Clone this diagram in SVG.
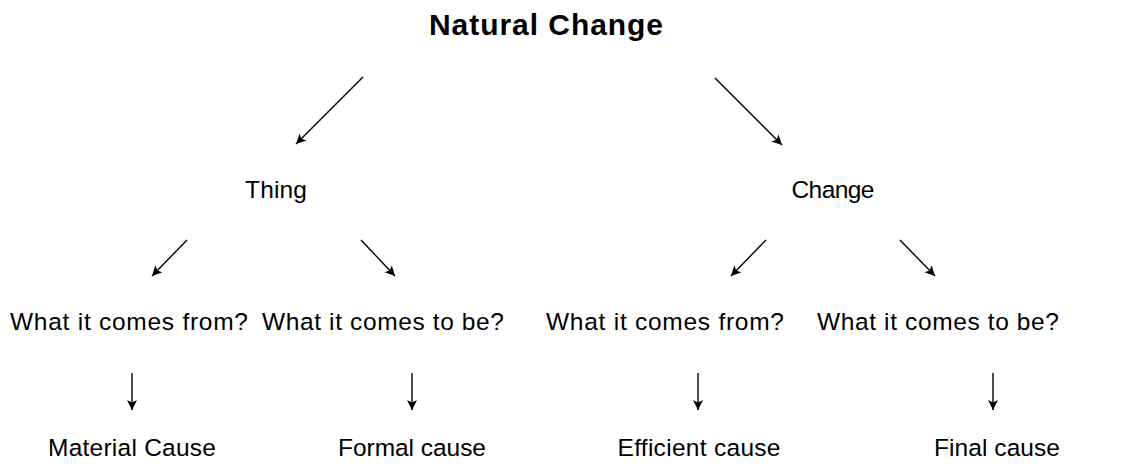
<svg xmlns="http://www.w3.org/2000/svg" width="1123" height="467" viewBox="0 0 1123 467">
<style>
text{font-family:"Liberation Sans",Arial,sans-serif;fill:#000;text-anchor:middle}
.t{font-size:30px;font-weight:bold}
.n{font-size:24.5px}
.c line{stroke:#000;stroke-width:1.4;marker-end:url(#ah)}
</style>
<defs>
<marker id="ah" markerUnits="userSpaceOnUse" markerWidth="14" markerHeight="12" refX="10" refY="5" orient="auto">
<path d="M0,0 L10,5 L0,10 L2.5,5 Z" fill="#000"/>
</marker>
</defs>
<rect width="1123" height="467" fill="#fff"/>
<g id="n-natural"><text class="t" x="546" y="35" textLength="234">Natural Change</text></g>
<g id="n-thing"><text class="n" x="276" y="198" textLength="62">Thing</text></g>
<g id="n-change"><text class="n" x="833" y="198" textLength="83">Change</text></g>
<g id="n-tfrom"><text class="n" x="129" y="330" textLength="238">What it comes from?</text></g>
<g id="n-tto"><text class="n" x="383" y="330" textLength="242">What it comes to be?</text></g>
<g id="n-cfrom"><text class="n" x="665" y="330" textLength="238">What it comes from?</text></g>
<g id="n-cto"><text class="n" x="938" y="330" textLength="242">What it comes to be?</text></g>
<g id="n-material"><text class="n" x="132" y="456" textLength="168">Material Cause</text></g>
<g id="n-formal"><text class="n" x="412" y="456" textLength="148">Formal cause</text></g>
<g id="n-efficient"><text class="n" x="699" y="456" textLength="163">Efficient cause</text></g>
<g id="n-final"><text class="n" x="997" y="456" textLength="126">Final cause</text></g>
<g class="c" id="connectors">
<line x1="363" y1="77" x2="296" y2="144"/>
<line x1="715" y1="78" x2="782" y2="145"/>
<line x1="187" y1="240" x2="152" y2="276"/>
<line x1="361" y1="240" x2="395" y2="276"/>
<line x1="766" y1="240" x2="731" y2="276"/>
<line x1="900" y1="240" x2="935" y2="276"/>
<line x1="132" y1="373" x2="132" y2="410"/>
<line x1="412" y1="373" x2="412" y2="410"/>
<line x1="698" y1="373" x2="698" y2="410"/>
<line x1="993" y1="373" x2="993" y2="410"/>
</g>
</svg>
